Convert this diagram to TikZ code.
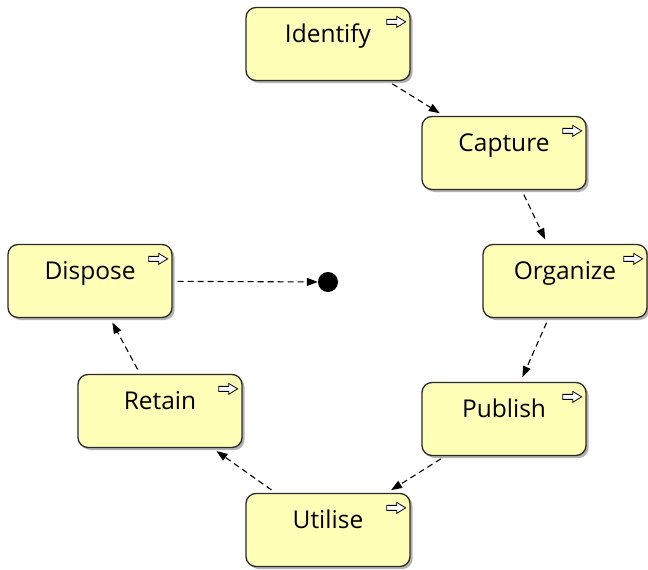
\documentclass[tikz,border=0pt]{standalone}
\usepackage{fontspec}
\setmainfont{Open Sans}
\usetikzlibrary{arrows.meta,shadows}

\definecolor{stagefill}{HTML}{FFFFB8}
\definecolor{stageline}{HTML}{2A2A2A}

\tikzset{
  stage/.style={
    draw=stageline, line width=1.3pt, fill=stagefill,
    rounded corners=10pt,
    minimum width=164pt, minimum height=73pt,
    inner xsep=0pt, inner ysep=0pt,
    text height=35pt, text depth=38pt,
    font=\fontsize{24.5}{28}\selectfont,
    drop shadow={shadow xshift=2.5pt, shadow yshift=-2.5pt, fill=black!55, opacity=0.55}
  },
  flow/.style={
    draw=black, line width=1.1pt, dash pattern=on 6pt off 4pt,
    -{Triangle[length=11pt,width=8pt]},
    shorten <=5pt, shorten >=5pt
  },
  finalstate/.style={circle, fill=black, minimum size=20pt, inner sep=0pt},
  pics/goarrow/.style={
    code={
      \draw[line width=0.8pt, fill=white, line join=miter]
        (0,-2.5) -- (10,-2.5) -- (10,-5.5) -- (19,0) -- (10,5.5) -- (10,2.5) -- (0,2.5) -- cycle;
    }
  }
}

\begin{document}
\begin{tikzpicture}[x=1pt,y=-1pt]
  \useasboundingbox (0,0) rectangle (648,570);

  % activity boxes
  \node[stage] (identify) at (328,44)  {Identify};
  \node[stage] (capture)  at (504,153) {Capture};
  \node[stage] (organize) at (565,281) {Organize};
  \node[stage] (publish)  at (504,419) {Publish};
  \node[stage] (utilise)  at (328,530) {Utilise};
  \node[stage] (retain)   at (160,411) {Retain};
  \node[stage] (dispose)  at (90,281)  {Dispose};

  % end marker
  \node[finalstate] (final) at (328,282) {};

  % small arrow icons in the upper right corner of each box
  \foreach \n in {identify,capture,organize,publish,utilise,retain,dispose}
    \pic at ([xshift=-24pt,yshift=-15pt]\n.north east) {goarrow};

  % life-cycle transitions
  \draw[flow] (identify) -- (capture);
  \draw[flow] (capture)  -- (organize);
  \draw[flow] (organize) -- (publish);
  \draw[flow] (publish)  -- (utilise);
  \draw[flow] (utilise)  -- (retain);
  \draw[flow] (retain)   -- (dispose);
  \draw[flow, shorten >=0pt] (dispose) -- (final);
\end{tikzpicture}
\end{document}
